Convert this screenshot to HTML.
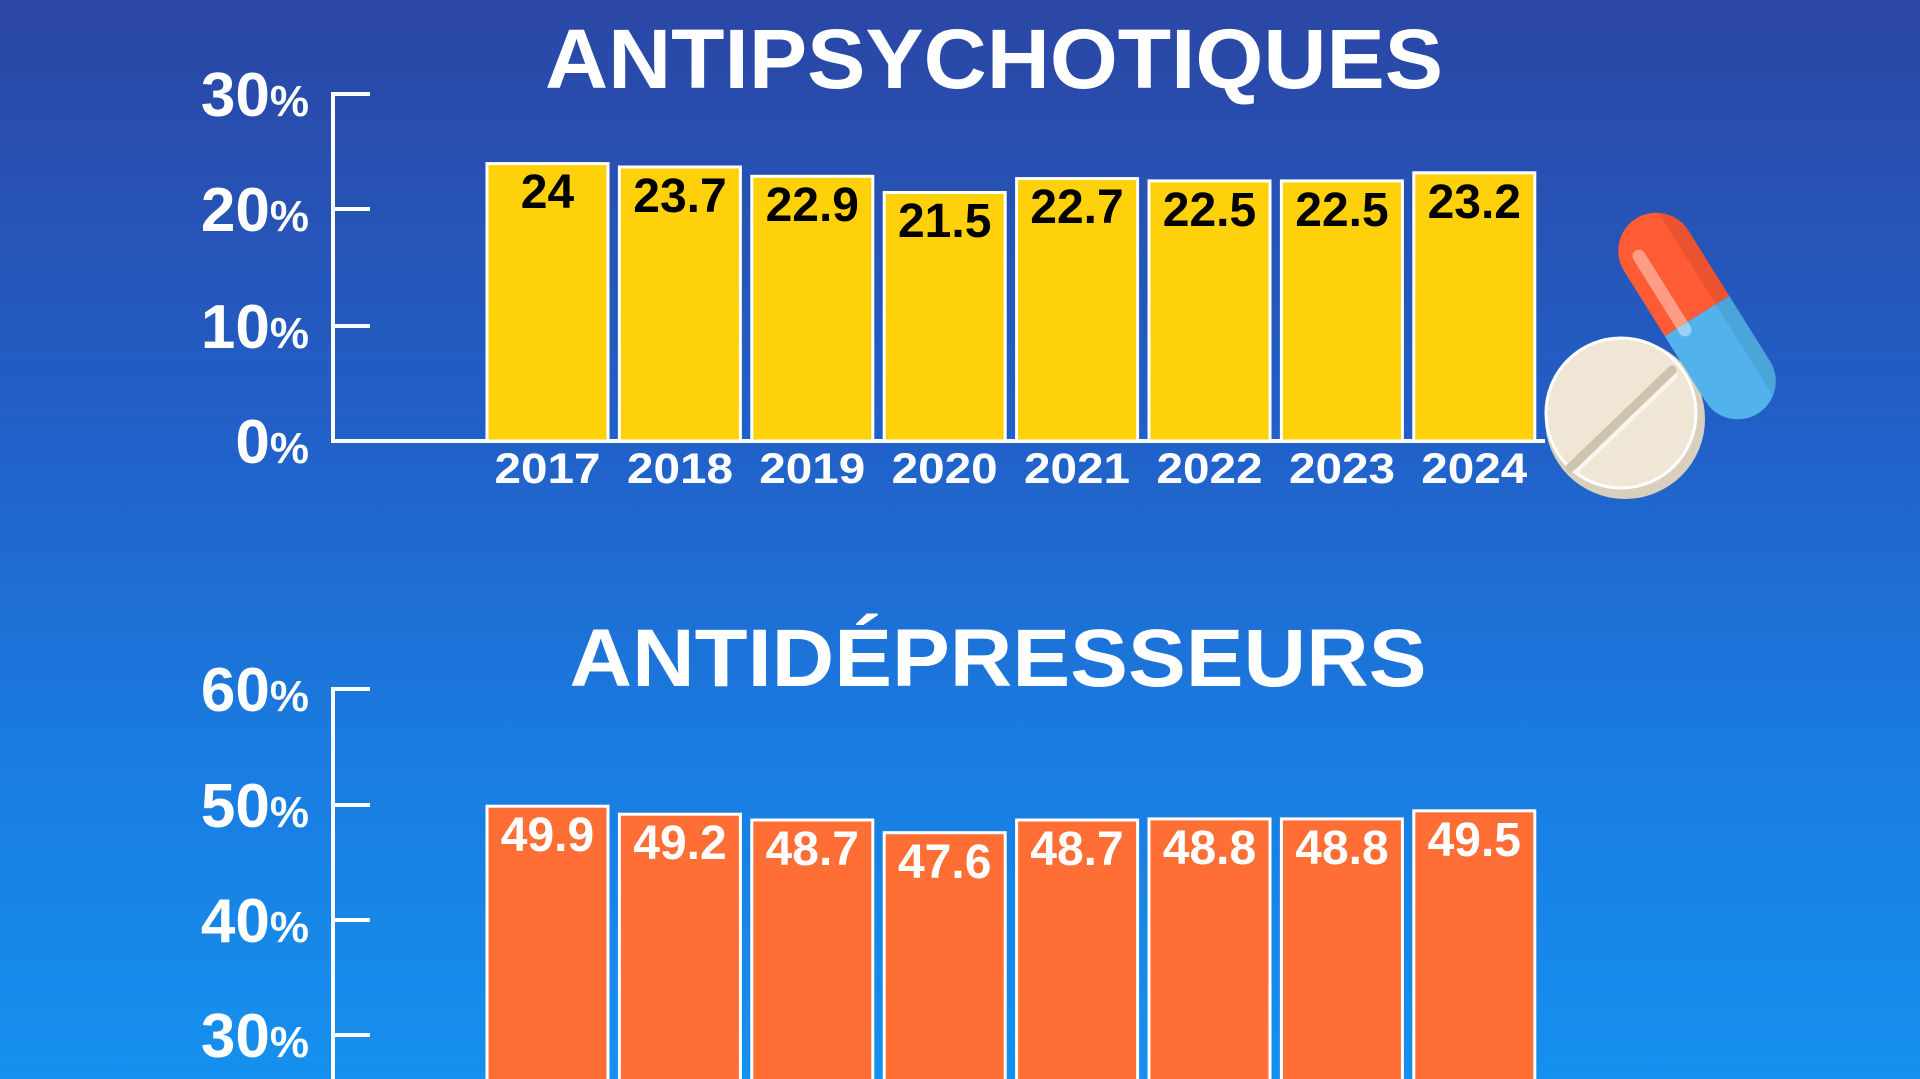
<!DOCTYPE html>
<html><head><meta charset="utf-8"><style>
html,body{margin:0;padding:0;width:1920px;height:1079px;overflow:hidden}
body{background:linear-gradient(180deg,#2b46a4 0%,#2160c8 40%,#1a7ce0 70%,#1590ee 100%)}
svg{display:block}
text{font-family:"Liberation Sans",sans-serif;font-weight:bold}
</style></head><body>
<svg width="1920" height="1079" viewBox="0 0 1920 1079">
<text x="994" y="88" font-size="84" fill="#fff" text-anchor="middle" textLength="898" lengthAdjust="spacingAndGlyphs">ANTIPSYCHOTIQUES</text>
<g stroke="#fff" stroke-width="4" fill="none">
<path d="M370 94 H333 V441 H1545"/>
<path d="M333 209 H370 M333 326 H370"/>
</g>
<g fill="#fff" text-anchor="end" font-size="62">
<text x="309" y="116">30<tspan font-size="44">%</tspan></text>
<text x="309" y="231">20<tspan font-size="44">%</tspan></text>
<text x="309" y="348">10<tspan font-size="44">%</tspan></text>
<text x="309" y="463">0<tspan font-size="44">%</tspan></text>
</g>
<g fill="#ffd10a" stroke="#fff" stroke-width="3">
<rect x="487" y="163.6" width="121" height="277.4"/>
<rect x="619.4" y="167" width="121" height="274"/>
<rect x="751.8" y="176.3" width="121" height="264.7"/>
<rect x="884.2" y="192.5" width="121" height="248.5"/>
<rect x="1016.6" y="178.6" width="121" height="262.4"/>
<rect x="1149" y="180.9" width="121" height="260.1"/>
<rect x="1281.4" y="180.9" width="121" height="260.1"/>
<rect x="1413.8" y="172.8" width="121" height="268.2"/>
</g>
<g fill="#000" text-anchor="middle" font-size="48">
<text x="547.5" y="208">24</text>
<text x="680" y="212">23.7</text>
<text x="812.3" y="221">22.9</text>
<text x="944.7" y="237">21.5</text>
<text x="1077" y="223">22.7</text>
<text x="1209.5" y="226">22.5</text>
<text x="1342" y="226">22.5</text>
<text x="1474.3" y="218">23.2</text>
</g>
<g fill="#fff" text-anchor="middle" font-size="43" style="font-weight:600">
<text x="547.5" y="483" textLength="106" lengthAdjust="spacingAndGlyphs">2017</text>
<text x="680" y="483" textLength="106" lengthAdjust="spacingAndGlyphs">2018</text>
<text x="812.3" y="483" textLength="106" lengthAdjust="spacingAndGlyphs">2019</text>
<text x="944.7" y="483" textLength="106" lengthAdjust="spacingAndGlyphs">2020</text>
<text x="1077" y="483" textLength="106" lengthAdjust="spacingAndGlyphs">2021</text>
<text x="1209.5" y="483" textLength="106" lengthAdjust="spacingAndGlyphs">2022</text>
<text x="1342" y="483" textLength="106" lengthAdjust="spacingAndGlyphs">2023</text>
<text x="1474.3" y="483" textLength="106" lengthAdjust="spacingAndGlyphs">2024</text>
</g>
<g>
<circle cx="1625" cy="419" r="80" fill="#d9cfbd"/>
<circle cx="1621" cy="413" r="75" fill="#efe6d6" stroke="#fff" stroke-width="3"/>
<path d="M1570 468 L1672 370" stroke="#cfc3ad" stroke-width="9" stroke-linecap="round"/>
<path d="M1575 473 L1677 375" stroke="#fbf6ec" stroke-width="4"/>
<g transform="translate(1697,316) rotate(-32)">
<path d="M-38 0 V-77 A38 38 0 0 1 38 -77 V0 Z" fill="#ff5b35"/>
<path d="M-38 0 V77 A38 38 0 0 0 38 77 V0 Z" fill="#52b3ec"/>
<path d="M22 -108 A38 38 0 0 1 38 -77 V77 A38 38 0 0 1 22 108 Z" fill="#000" opacity="0.08"/>
<rect x="-24" y="-88" width="13" height="100" rx="6.5" fill="#fff" opacity="0.4"/>
</g>
</g>
<text x="998" y="686" font-size="82" fill="#fff" text-anchor="middle" textLength="857" lengthAdjust="spacingAndGlyphs">ANTIDÉPRESSEURS</text>
<g stroke="#fff" stroke-width="4" fill="none">
<path d="M370 689 H333 V1079"/>
<path d="M333 805 H370 M333 920 H370 M333 1035 H370"/>
</g>
<g fill="#fff" text-anchor="end" font-size="62">
<text x="309" y="711">60<tspan font-size="44">%</tspan></text>
<text x="309" y="827">50<tspan font-size="44">%</tspan></text>
<text x="309" y="942">40<tspan font-size="44">%</tspan></text>
<text x="309" y="1057">30<tspan font-size="44">%</tspan></text>
</g>
<g fill="#ff6e35" stroke="#fff" stroke-width="3">
<rect x="487" y="806.2" width="121" height="280"/>
<rect x="619.4" y="814.2" width="121" height="270"/>
<rect x="751.8" y="820" width="121" height="265"/>
<rect x="884.2" y="832.7" width="121" height="252"/>
<rect x="1016.6" y="820" width="121" height="265"/>
<rect x="1149" y="818.9" width="121" height="266"/>
<rect x="1281.4" y="818.9" width="121" height="266"/>
<rect x="1413.8" y="810.8" width="121" height="274"/>
</g>
<g fill="#fff" text-anchor="middle" font-size="48">
<text x="547.5" y="851">49.9</text>
<text x="680" y="859">49.2</text>
<text x="812.3" y="865">48.7</text>
<text x="944.7" y="878">47.6</text>
<text x="1077" y="865">48.7</text>
<text x="1209.5" y="864">48.8</text>
<text x="1342" y="864">48.8</text>
<text x="1474.3" y="856">49.5</text>
</g>
</svg>
</body></html>
